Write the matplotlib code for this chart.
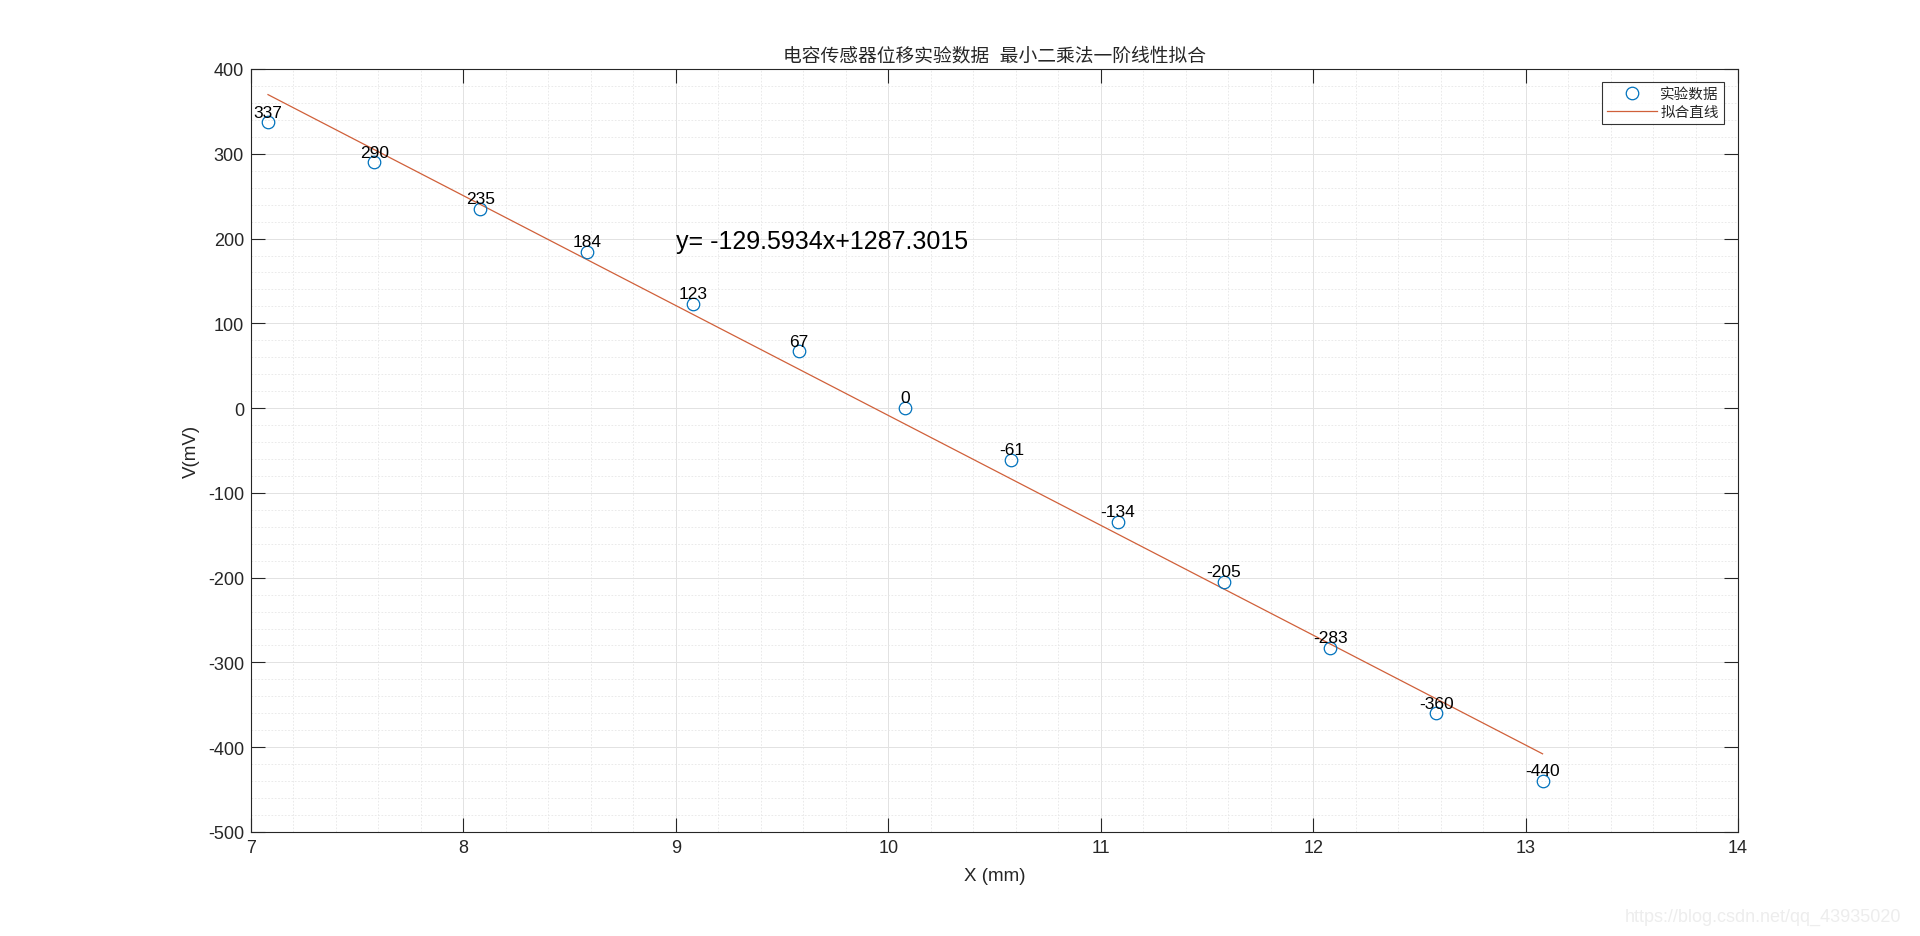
"""
Capacitive displacement sensor data with a first-order least-squares fit,
drawn in the look of a MATLAB figure window export.
"""

import matplotlib

matplotlib.use("Agg")
import matplotlib.pyplot as plt
import numpy as np
from matplotlib.ticker import MultipleLocator

plt.rcParams["font.family"] = ["Liberation Sans", "Noto Sans CJK SC", "DejaVu Sans"]
plt.rcParams["axes.unicode_minus"] = False   # MATLAB prints a plain hyphen

# measured points
x_mm = [7.08, 7.58, 8.08, 8.58, 9.08, 9.58, 10.08, 10.58, 11.08, 11.58, 12.08, 12.58, 13.08]
v_mv = [337, 290, 235, 184, 123, 67, 0, -61, -134, -205, -283, -360, -440]

# fitted line as printed on the chart
slope = -129.5934
intercept = 1287.3015

TITLE = "电容传感器位移实验数据  最小二乘法一阶线性拟合"
LEGEND = ["实验数据", "拟合直线"]
WATERMARK = "https://blog.csdn.net/qq_43935020"

BLUE = "#0072BD"
ORANGE = "#D0603A"
TICK = "#262626"

fig = plt.figure(figsize=(19.2, 9.37), dpi=100, facecolor="white")
ax = fig.add_axes([251 / 1920, 1 - 833 / 937, (1738 - 251) / 1920, (833 - 70) / 937])

xs = np.asarray(x_mm)
fit = slope * xs + intercept
ax.plot(xs, v_mv, "o", ms=9, mfc="none", mec=BLUE, mew=0.9, label=LEGEND[0], zorder=3)
ax.plot(xs, fit, "-", color=ORANGE, lw=0.9, label=LEGEND[1], zorder=2)

for xv, yv in zip(x_mm, v_mv):
    ax.text(xv, yv + 12, f"{yv}", ha="center", va="center", fontsize=12.5, color="black")

ax.text(9.0, 197, f"y= {slope}x+{intercept}", ha="left", va="center",
        fontsize=18, color="black")

ax.set_xlim(7, 14)
ax.set_ylim(-500, 400)
ax.xaxis.set_major_locator(MultipleLocator(1))
ax.yaxis.set_major_locator(MultipleLocator(100))
ax.xaxis.set_minor_locator(MultipleLocator(0.2))
ax.yaxis.set_minor_locator(MultipleLocator(20))

ax.grid(which="major", color="#e2e2e2", lw=0.7, ls="-")
ax.grid(which="minor", color="#e6e6e6", lw=0.6, ls=(0, (2, 2)))
ax.set_axisbelow(True)

ax.tick_params(which="major", direction="in", length=10, width=0.8, top=True, right=True,
               colors=TICK, labelsize=13, pad=5)
ax.tick_params(which="minor", length=0, top=True, right=True)
for side in ax.spines.values():
    side.set_color(TICK)
    side.set_linewidth(0.8)

ax.set_xlabel("X (mm)", fontsize=13.5, color=TICK, labelpad=8)
ax.set_ylabel("V(mV)", fontsize=13.5, color=TICK, labelpad=6)
ax.set_title(TITLE, fontsize=13.5, color=TICK, pad=6)

leg = ax.legend(loc="upper right", fontsize=10.5, frameon=True, fancybox=False,
                borderpad=0.35, borderaxespad=0, handlelength=3.4, handletextpad=0.25,
                bbox_to_anchor=(0.9906, 0.983), labelspacing=0.25)
leg.get_frame().set_edgecolor("black")
leg.get_frame().set_linewidth(0.8)
for txt in leg.get_texts():
    txt.set_color(TICK)

fig.text(0.99, 0.021, WATERMARK, ha="right", va="center", fontsize=13, color="#ededed")

fig.savefig("out.png", dpi=100, facecolor="white")
